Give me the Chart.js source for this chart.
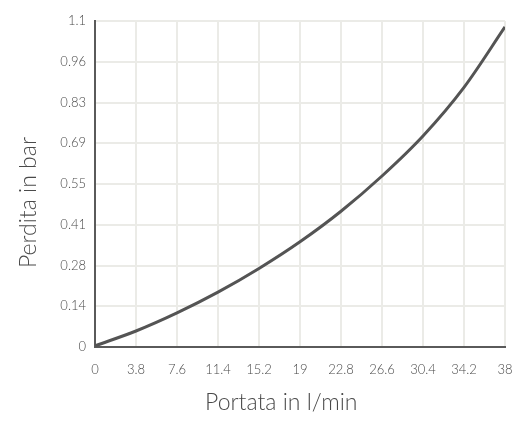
<!DOCTYPE html>
<html>
<head>
<meta charset="utf-8">
<script src="https://cdn.jsdelivr.net/npm/chart.js@4"></script>
<style>
  html, body { margin: 0; padding: 0; background: #ffffff; }
  #wrap { width: 514px; height: 423px; }
</style>
</head>
<body>
<div id="wrap"><canvas id="chart" width="514" height="423"></canvas></div>
<script>
// flow (l/min) and pressure loss (bar)
const flow = [0, 3.8, 7.6, 11.4, 15.2, 19, 22.8, 26.6, 30.4, 34.2, 38];
const loss = [0.004, 0.054, 0.115, 0.185, 0.265, 0.355, 0.458, 0.577, 0.712, 0.876, 1.08];

const xTicks = [0, 3.8, 7.6, 11.4, 15.2, 19, 22.8, 26.6, 30.4, 34.2, 38];
const xLabels = ['0', '3.8', '7.6', '11.4', '15.2', '19', '22.8', '26.6', '30.4', '34.2', '38'];
const yTicks = [0, 0.1375, 0.275, 0.4125, 0.55, 0.6875, 0.825, 0.9625, 1.1];
const yLabels = ['0', '0.14', '0.28', '0.41', '0.55', '0.69', '0.83', '0.96', '1.1'];

const fontFamily = 'Lato, "Open Sans", sans-serif';
const textColor = '#4a4a4a';
const gridColor = '#ebebe7';

// titles sit a bit off the plot centre in the original, toward the origin
const pad = '\u00a0'.repeat(6);

const ctx = document.getElementById('chart').getContext('2d');

new Chart(ctx, {
    type: 'line',
    data: {
        datasets: [{
            data: flow.map((x, i) => ({ x: x, y: loss[i] })),
            borderColor: '#545454',
            borderWidth: 3,
            pointRadius: 0,
            cubicInterpolationMode: 'monotone',
            fill: false
        }]
    },
    options: {
        responsive: false,
        animation: false,
        layout: { padding: { top: 21, right: 9, bottom: 7, left: 15 } },
        plugins: {
            legend: { display: false },
            tooltip: { enabled: false }
        },
        scales: {
            x: {
                type: 'linear',
                min: 0,
                max: 38,
                afterBuildTicks: axis => { axis.ticks = xTicks.map(v => ({ value: v })); },
                afterFit: axis => {
                    axis.height = 69;
                    axis.paddingLeft = 0;
                    axis.paddingRight = 0;
                },
                ticks: {
                    color: textColor,
                    font: { family: fontFamily, size: 13, weight: 300 },
                    padding: 15,
                    maxRotation: 0,
                    autoSkip: false,
                    callback: (v, i) => xLabels[i]
                },
                grid: { color: gridColor, lineWidth: 2, drawTicks: false },
                border: { color: '#5a5a5a', width: 2 },
                title: {
                    display: true,
                    text: 'Portata in l/min' + pad,
                    color: textColor,
                    font: { family: fontFamily, size: 23, weight: 300 },
                    padding: { top: 4, bottom: 0 }
                }
            },
            y: {
                min: 0,
                max: 1.1,
                afterBuildTicks: axis => { axis.ticks = yTicks.map(v => ({ value: v })); },
                afterFit: axis => { axis.width = 80; },
                ticks: {
                    color: textColor,
                    font: { family: fontFamily, size: 13, weight: 300 },
                    padding: 9,
                    autoSkip: false,
                    callback: (v, i) => yLabels[i]
                },
                grid: { color: gridColor, lineWidth: 2, drawTicks: false },
                border: { color: '#5a5a5a', width: 2 },
                title: {
                    display: true,
                    text: 'Perdita in bar' + pad,
                    color: textColor,
                    font: { family: fontFamily, size: 23, weight: 300 },
                    padding: { top: 0, bottom: 0 }
                }
            }
        }
    }
});
</script>
</body>
</html>
